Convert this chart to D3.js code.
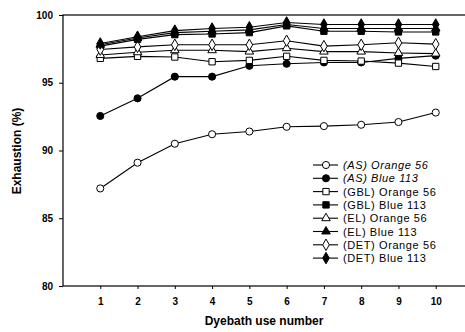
<!DOCTYPE html>
<html>
<head>
<meta charset="utf-8">
<script src="https://cdn.jsdelivr.net/npm/d3@7"></script>
<style>
  body { margin: 0; background: #fff; }
  svg { display: block; font-family: "Liberation Sans", Arial, sans-serif; }
</style>
</head>
<body>
<svg id="chart" width="465" height="332"></svg>
<script>
var uses = [1, 2, 3, 4, 5, 6, 7, 8, 9, 10];
var yTicks = [80, 85, 90, 95, 100];

var asOrange = [87.2, 89.1, 90.5, 91.2, 91.4, 91.75, 91.8, 91.9, 92.1, 92.8];
var asBlue = [92.55, 93.85, 95.45, 95.45, 96.25, 96.4, 96.5, 96.5, 96.8, 97.0];
var gblOrange = [96.8, 96.95, 96.9, 96.55, 96.65, 96.95, 96.65, 96.6, 96.45, 96.2];
var gblBlue = [97.7, 98.2, 98.55, 98.6, 98.7, 99.2, 98.8, 98.8, 98.75, 98.75];
var elOrange = [97.05, 97.25, 97.4, 97.4, 97.3, 97.55, 97.3, 97.3, 97.2, 97.15];
var elBlue = [97.8, 98.3, 98.7, 98.8, 98.9, 99.3, 99.0, 99.0, 99.0, 99.0];
var detOrange = [97.45, 97.65, 97.8, 97.8, 97.8, 98.1, 97.7, 97.8, 97.95, 97.85];
var detBlue = [97.9, 98.4, 98.85, 99.0, 99.1, 99.45, 99.3, 99.3, 99.3, 99.3];

var series = [
  {name: "(AS) Orange 56", values: asOrange, shape: d3.symbolCircle, fill: "#fff", italic: true},
  {name: "(AS) Blue 113", values: asBlue, shape: d3.symbolCircle, fill: "#000", italic: true},
  {name: "(GBL) Orange 56", values: gblOrange, shape: d3.symbolSquare, fill: "#fff"},
  {name: "(GBL) Blue 113", values: gblBlue, shape: d3.symbolSquare, fill: "#000"},
  {name: "(EL) Orange 56", values: elOrange, shape: d3.symbolTriangle, fill: "#fff"},
  {name: "(EL) Blue 113", values: elBlue, shape: d3.symbolTriangle, fill: "#000"},
  {name: "(DET) Orange 56", values: detOrange, shape: d3.symbolDiamond, fill: "#fff"},
  {name: "(DET) Blue 113", values: detBlue, shape: d3.symbolDiamond, fill: "#000"}
];

var shapeSize = function(s) {
  if (s === d3.symbolSquare) return 40;
  if (s === d3.symbolTriangle) return 32;
  if (s === d3.symbolDiamond) return 38;
  return 40;
};

var svg = d3.select("#chart");
var x = d3.scaleLinear().domain([0, 11]).range([63, 473]);
var y = d3.scaleLinear().domain([80, 100]).range([286, 15]);

// frame
svg.append("rect")
  .attr("x", x(0)).attr("y", y(100))
  .attr("width", x(11) - x(0)).attr("height", y(80) - y(100))
  .attr("fill", "none").attr("stroke", "#000").attr("stroke-width", 1.2);

var yAxis = svg.append("g")
  .attr("transform", "translate(" + x(0) + ",0)")
  .call(d3.axisLeft(y).tickValues(yTicks).tickSize(4).tickPadding(6));
var xAxis = svg.append("g")
  .attr("transform", "translate(0," + y(80) + ")")
  .call(d3.axisBottom(x).tickValues(uses).tickSize(3).tickPadding(9));

[yAxis, xAxis].forEach(function(ax) {
  ax.select(".domain").remove();
  ax.selectAll("line").attr("stroke", "#000");
  ax.selectAll("text")
    .attr("fill", "#000")
    .style("font-size", "10px")
    .style("font-weight", "bold")
    .style("font-family", "Liberation Sans, Arial, sans-serif");
});

var line = d3.line()
  .x(function(d, i) { return x(uses[i]); })
  .y(function(d) { return y(d); });

var plot = svg.append("g");
series.forEach(function(s) {
  plot.append("path")
    .attr("d", line(s.values))
    .attr("fill", "none")
    .attr("stroke", "#000")
    .attr("stroke-width", 1.1);
});
series.forEach(function(s) {
  plot.selectAll(null)
    .data(s.values)
    .enter().append("path")
    .attr("transform", function(d, i) { return "translate(" + x(uses[i]) + "," + y(d) + ")"; })
    .attr("d", d3.symbol().type(s.shape).size(shapeSize(s.shape)))
    .attr("fill", s.fill)
    .attr("stroke", "#000")
    .attr("stroke-width", 1);
});

// legend
var legend = svg.append("g");
series.forEach(function(s, i) {
  var ly = 165 + i * 13.3;
  legend.append("line")
    .attr("x1", 313).attr("x2", 338).attr("y1", ly).attr("y2", ly)
    .attr("stroke", "#000").attr("stroke-width", 1.1);
  legend.append("path")
    .attr("transform", "translate(326," + ly + ")")
    .attr("d", d3.symbol().type(s.shape).size(shapeSize(s.shape)))
    .attr("fill", s.fill).attr("stroke", "#000");
  legend.append("text")
    .attr("x", 343).attr("y", ly + 4)
    .style("font-size", "11px")
    .style("letter-spacing", "0.6px")
    .style("font-style", s.italic ? "italic" : "normal")
    .text(s.name);
});

// axis titles
svg.append("text")
  .attr("x", 264).attr("y", 325)
  .attr("text-anchor", "middle")
  .style("font-size", "12px").style("font-weight", "bold")
  .text("Dyebath use number");
svg.append("text")
  .attr("transform", "translate(21,151) rotate(-90)")
  .attr("text-anchor", "middle")
  .style("font-size", "12px").style("font-weight", "bold")
  .text("Exhaustion (%)");
</script>
</body>
</html>
